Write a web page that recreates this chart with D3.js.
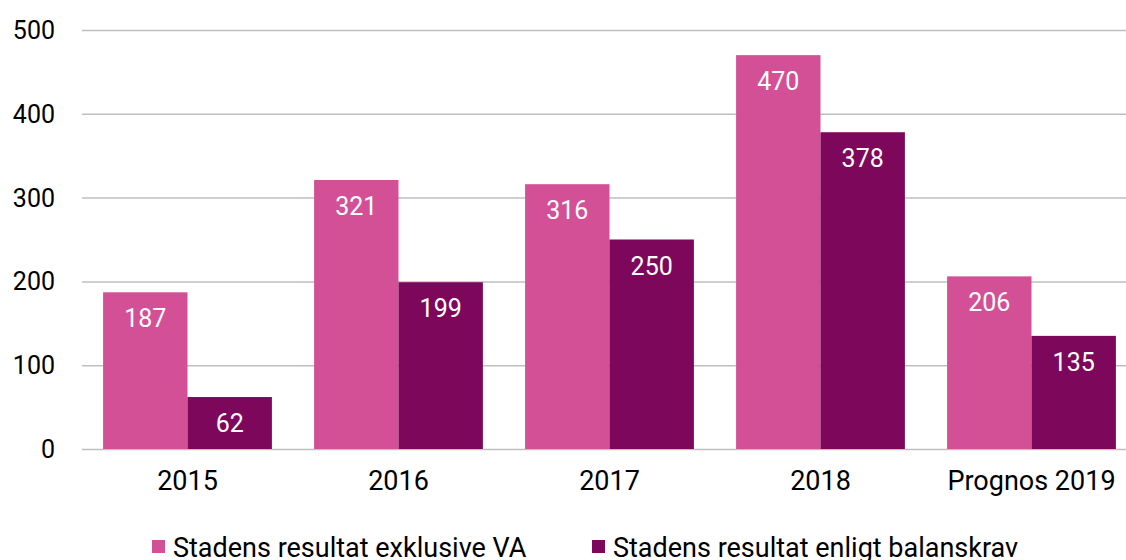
<!DOCTYPE html>
<html>
<head>
<meta charset="utf-8">
<script src="https://cdn.jsdelivr.net/npm/d3@7"></script>
<style>
  body { margin: 0; background: #fff; }
  svg { display: block; font-family: Roboto, "Liberation Sans", sans-serif; }
  .grid line { stroke: #bfbfbf; stroke-width: 1.5; }
  .grid .domain { display: none; }
</style>
</head>
<body>
<script>
var categories = ["2015", "2016", "2017", "2018", "Prognos 2019"];
var seriesNames = ["Stadens resultat exklusive VA", "Stadens resultat enligt balanskrav"];
var exklusiveVA = [187, 321, 316, 470, 206];
var balanskrav = [62, 199, 250, 378, 135];
var yTicks = [0, 100, 200, 300, 400, 500];
var colors = ["#d35096", "#7d075b"];

var W = 1126, H = 560;
var margin = {top: 30, left: 82, bottom: 111};
var plotW = 1055;  // runs past the right edge like the original
var plotH = H - margin.top - margin.bottom;

var svg = d3.select("body").append("svg").attr("width", W).attr("height", H);
var g = svg.append("g").attr("transform", "translate(" + margin.left + "," + margin.top + ")");

var x0 = d3.scaleBand().domain(categories).range([0, plotW]).paddingInner(0.2).paddingOuter(0.1);
var x1 = d3.scaleBand().domain([0, 1]).range([0, x0.bandwidth()]);
var y = d3.scaleLinear().domain([0, 500]).range([plotH, 0]);

// gridlines
g.append("g").attr("class", "grid")
  .call(d3.axisLeft(y).tickValues(yTicks).tickSize(-(W - margin.left)).tickFormat(""));

// y labels
g.append("g").selectAll("text").data(yTicks).enter().append("text")
  .attr("x", -27).attr("y", function(d){ return y(d) + 9; })
  .attr("text-anchor", "end").attr("font-size", 25).attr("fill", "#000")
  .text(function(d){ return d; });

var rows = categories.map(function(c, i){ return {cat: c, vals: [exklusiveVA[i], balanskrav[i]]}; });

var grp = g.selectAll(".grp").data(rows).enter().append("g")
  .attr("transform", function(d){ return "translate(" + x0(d.cat) + ",0)"; });

grp.selectAll("rect").data(function(d){ return d.vals; }).enter().append("rect")
  .attr("x", function(d, i){ return x1(i); })
  .attr("width", x1.bandwidth())
  .attr("y", function(d){ return y(d); })
  .attr("height", function(d){ return plotH - y(d); })
  .attr("fill", function(d, i){ return colors[i]; });

grp.selectAll("text.val").data(function(d){ return d.vals; }).enter().append("text")
  .attr("class", "val")
  .attr("x", function(d, i){ return x1(i) + x1.bandwidth() / 2; })
  .attr("y", function(d){ return y(d) + 35; })
  .attr("text-anchor", "middle").attr("font-size", 25).attr("fill", "#fff")
  .text(function(d){ return d; });

// x labels
g.append("g").selectAll("text").data(categories).enter().append("text")
  .attr("x", function(d){ return x0(d) + x0.bandwidth() / 2; })
  .attr("y", plotH + 41)
  .attr("text-anchor", "middle").attr("font-size", 27).attr("fill", "#000")
  .text(function(d){ return d; });

// legend
var legendX = [152, 592];
var leg = svg.append("g").selectAll("g").data(seriesNames).enter().append("g")
  .attr("transform", function(d, i){ return "translate(" + legendX[i] + ",540)"; });
leg.append("rect").attr("width", 13).attr("height", 13)
  .attr("fill", function(d, i){ return colors[i]; });
leg.append("text").attr("x", 21).attr("y", 17)
  .attr("font-size", 27).attr("fill", "#000")
  .text(function(d){ return d; });
</script>
</body>
</html>
